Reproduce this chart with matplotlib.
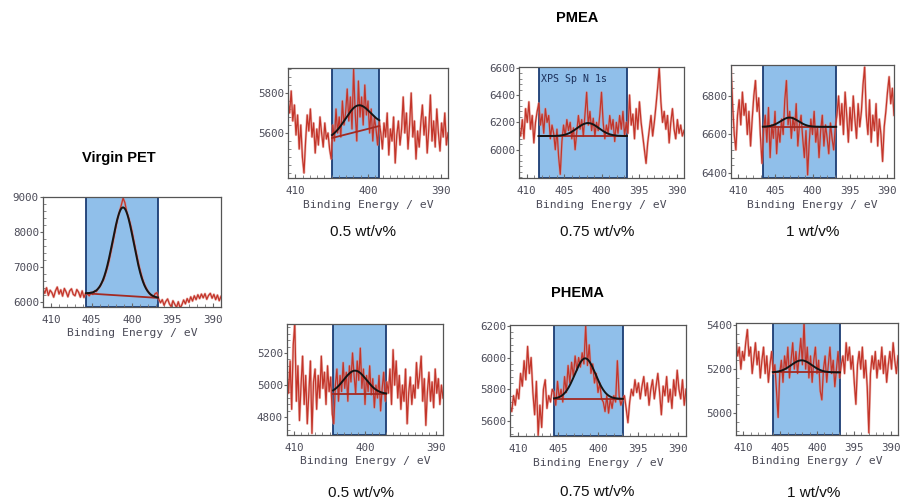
import numpy as np
import matplotlib
matplotlib.use("Agg")
import matplotlib.pyplot as plt
from matplotlib.ticker import FixedLocator, MultipleLocator, AutoMinorLocator

# ---------------------------------------------------------------- data
energy_span = (411.0, 389.0)          # binding energy range of every scan (eV)

virgin_pet_counts = [
    6380, 6260, 6420, 6200, 6350, 6280, 6150, 6330, 6440, 6240, 6360, 6180, 6400,
    6300, 6160, 6330, 6390, 6230, 6190, 6370, 6290, 6150, 6330, 6140, 6260,
    6240, 6190, 6290, 6230, 6330, 6310, 6400, 6450, 6560, 6640, 6800, 6960, 7160,
    7400, 7640, 7900, 8160, 8400, 8600, 8780, 8980, 8850, 8600, 8440, 8260, 8040,
    7780, 7520, 7280, 7040, 6840, 6660, 6520, 6410, 6320, 6240, 6190, 6150, 6250,
    6280, 6100,
    5990, 6080, 5920, 6030, 6100, 5960, 5880, 6050, 5950, 5860, 6020, 5850, 5930,
    6070, 5960, 6110, 6000, 6160, 6040, 6190, 6080, 6220, 6110, 6240, 6130, 6250,
    6090, 6200, 6260, 6120, 6230, 6080, 6210, 6050, 6170,
]

pmea_05_counts = [
    5760, 5700, 5810, 5660, 5740, 5590, 5690, 5520, 5640, 5480, 5400, 5560, 5690,
    5610, 5720, 5580, 5650, 5500, 5620, 5540, 5680, 5600, 5530, 5650, 5570, 5600,
    5520, 5470, 5640, 5560, 5720, 5600, 5680, 5580, 5760, 5640, 5700, 5820, 5660,
    5780, 5620, 5920, 5700, 5560, 5860, 5680, 5780, 5640, 5840, 5690, 5760, 5600,
    5720, 5560, 5680, 5620, 5540, 5660, 5600,
    5520, 5650, 5580, 5700, 5490, 5620, 5560, 5680, 5450, 5590, 5660, 5540, 5620,
    5780, 5600, 5700, 5520, 5640, 5800, 5580, 5660, 5470, 5610, 5530, 5650, 5740,
    5590, 5680, 5500, 5620, 5790, 5560, 5660, 5530, 5720, 5600, 5510, 5650, 5580,
    5700, 5540, 5600,
]

pmea_075_counts = [
    6150, 6100, 6220, 6080, 6300, 6200, 6350, 6150, 6250, 6050, 6200, 6280,
    6340, 6180, 6260, 6120, 6300, 6200, 6250, 6080, 6180, 6120, 6000, 6150, 5950,
    5820, 6060, 6180, 6100, 6220, 6140, 6200, 6080, 6160, 6000, 6130, 6250, 6150,
    6220, 6100, 6260, 6420, 6180, 6280, 6140, 6230, 6100, 6200, 6140, 6260, 6420,
    6200, 6080, 6180, 6120, 6250, 6150, 6220, 6060, 6200, 6120, 6250, 6150, 6280,
    6100, 6200, 6120,
    6400, 6180, 6260, 6080, 6300, 6150, 6350, 6200, 6100, 6000, 5900, 6050, 6150,
    6250, 6100, 6200, 6320, 6450, 6600, 6350, 6200, 6280, 6150, 6250, 6050, 6200,
    6300, 6150, 6080, 6220, 6120, 6180, 6100, 6140,
]

pmea_1_counts = [
    6950, 6750, 6600, 6520, 6700, 6780, 6650, 6820, 6700, 6760, 6600, 6720, 6540,
    6680, 6800, 6880, 6720, 6790, 6600, 6450, 6620, 6700, 6560, 6740, 6480, 6650,
    6580, 6720, 6500, 6640, 6560, 6680, 6600, 6780, 6880, 6650, 6720, 6580, 6690,
    6620, 6760, 6540, 6650, 6700, 6580, 6480, 6620, 6390, 6560, 6680, 6600, 6720,
    6560, 6640, 6480, 6620, 6700, 6540, 6650, 6580, 6500, 6660, 6580, 6520, 6640,
    6700,
    6800, 6650, 6760, 6600, 6820, 6700, 6560, 6740, 6620, 6800, 6680, 6580, 6760,
    6640, 6720, 6860, 6950, 6700, 6600, 6780, 6560, 6700, 6620, 6760, 6540, 6680,
    6600, 6460, 6640, 6720, 6820, 6900, 6760, 6840, 6700,
]

phema_05_counts = [
    5080, 4950, 5150, 4850, 5250, 5380, 4900, 5120, 4780, 5000, 5180, 4880, 5060,
    4760, 4950, 5150, 4700, 5020, 5100, 4850, 5060, 4920, 5180, 4980, 5080, 4880,
    5120, 4960, 5050, 4820, 4760,
    5000, 5100, 4900, 5060, 4960, 5140, 4980, 5080, 4900, 5120, 5020, 5200, 5060,
    4950, 5150, 5030, 5230, 4980, 5100, 4880, 5060, 4960, 5120, 4940, 5040, 4860,
    5000, 4920, 5060, 4840, 4980, 5080, 4900, 5020,
    4950, 5100, 4880, 5220, 5000, 5150, 4920, 5060, 4850, 5000, 4900, 5100, 4760,
    4950, 5050, 4880, 5000, 4920, 5140, 4980, 5060, 5180, 4900, 5040, 4750, 4960,
    5080, 4900, 5020, 4860, 5100, 4950, 5040, 4880, 5000, 4920,
]

phema_075_counts = [
    5700, 5660, 5760, 5700, 5800, 5740, 5900, 5820, 5980, 5860, 6070, 5900, 6000,
    5780, 5640, 5850, 5510, 5700, 5560, 5800, 5860, 5680, 5760, 5720, 5800,
    5780, 5700, 5850, 5740, 5800, 5720, 5880, 5780, 5950, 5840, 5970, 5880, 6010,
    5920, 6000, 5940, 6030, 5960, 6200, 5950, 6080, 5900, 5960, 5840, 5900, 5780,
    5840, 5740, 5720, 5660, 5760, 5650, 5740, 5680, 5760, 5720, 5980, 5760, 5700,
    5740,
    5760, 5680, 5590, 5720, 5800, 5760, 5860, 5780, 5840, 5740, 5820, 5880, 5760,
    5840, 5700, 5800, 5860, 5740, 5820, 5900, 5780, 5640, 5820, 5760, 5880, 5720,
    5800, 5680, 5860, 5760, 5920, 5800, 5740, 5860, 5700, 5800,
]

phema_1_counts = [
    5330, 5260, 5300, 5200, 5280, 5240, 5320, 5380, 5260, 5300, 5180, 5250, 5320,
    5220, 5280, 5160, 5240, 5300, 5180, 5260, 5140, 5220, 5280, 5180,
    5220, 5100, 4980, 5180, 5240, 5140, 5260, 5200, 5300, 5160, 5240, 5320, 5200,
    5280, 5180, 5260, 5340, 5220, 5420, 5200, 5300, 5160, 5260, 5140, 5240, 5300,
    5180, 5240, 5100, 5060, 5200, 5260, 5140, 5220, 5300, 5180, 5240, 5120, 5200,
    5280, 5160, 5220,
    5260, 5180, 5320, 5240, 5300, 5200, 5260, 5140, 5040, 5220, 5280, 5200, 5300,
    5160, 5240, 5120, 4910, 5180, 5260, 5200, 5280, 5160, 5240, 5200, 5300, 5180,
    5260, 5140, 5220, 5280, 5200, 5320, 5240, 5180, 5260,
]

# N 1s fit: window limits (eV), peak centre (eV), width (eV), height, baseline ends
virgin_pet_fit = dict(window=(405.7, 396.8), centre=401.1, sigma=1.31, height=2520, base=(6260, 6130))
pmea_05_fit    = dict(window=(404.95, 398.45), centre=401.4, sigma=1.7, height=130, base=(5575, 5635))
pmea_075_fit   = dict(window=(408.4, 396.6), centre=401.8, sigma=1.45, height=95, base=(6100, 6100))
pmea_1_fit     = dict(window=(406.7, 396.8), centre=403.1, sigma=1.2, height=48, base=(6640, 6640))
phema_05_fit   = dict(window=(404.5, 397.0), centre=401.4, sigma=1.6, height=145, base=(4945, 4945))
phema_075_fit  = dict(window=(405.5, 396.9), centre=401.6, sigma=1.3, height=255, base=(5740, 5740))
phema_1_fit    = dict(window=(406.0, 396.9), centre=402.1, sigma=1.4, height=55, base=(5185, 5185))

group_titles = ["Virgin PET", "PMEA", "PHEMA"]
loading_labels = ["0.5 wt/v%", "0.75 wt/v%", "1 wt/v%"]

# ---------------------------------------------------------------- layout
W, H = 909, 503
fig = plt.figure(figsize=(W / 100, H / 100), dpi=100)
fig.patch.set_facecolor("white")

MONO = "DejaVu Sans Mono"
AXIS_TXT = "#4b4b58"

panels = [
    # box in pixels (left, top, right, bottom), y-limits, y ticks, x ticks
    dict(box=(43, 197, 221, 307), counts=virgin_pet_counts, fit=virgin_pet_fit,
         ylim=(5870, 9010), yticks=[6000, 7000, 8000, 9000], xticks=[410, 405, 400, 395, 390]),
    dict(box=(288, 68, 448, 178), counts=pmea_05_counts, fit=pmea_05_fit,
         ylim=(5375, 5925), yticks=[5600, 5800], xticks=[410, 400, 390]),
    dict(box=(519, 67, 684, 178), counts=pmea_075_counts, fit=pmea_075_fit,
         ylim=(5793, 6605), yticks=[6000, 6200, 6400, 6600], xticks=[410, 405, 400, 395, 390],
         note="XPS Sp N 1s"),
    dict(box=(731, 65, 894, 178), counts=pmea_1_counts, fit=pmea_1_fit,
         ylim=(6374, 6961), yticks=[6400, 6600, 6800], xticks=[410, 405, 400, 395, 390]),
    dict(box=(287, 324, 443, 435), counts=phema_05_counts, fit=phema_05_fit,
         ylim=(4690, 5380), yticks=[4800, 5000, 5200], xticks=[410, 400, 390]),
    dict(box=(510, 325, 686, 436), counts=phema_075_counts, fit=phema_075_fit,
         ylim=(5506, 6205), yticks=[5600, 5800, 6000, 6200], xticks=[410, 405, 400, 395, 390]),
    dict(box=(736, 323, 898, 435), counts=phema_1_counts, fit=phema_1_fit,
         ylim=(4900, 5410), yticks=[5000, 5200, 5400], xticks=[410, 405, 400, 395, 390]),
]


def draw_panel(p):
    l, t, r, b = p["box"]
    ax = fig.add_axes([l / W, 1 - b / H, (r - l) / W, (b - t) / H])
    counts = np.asarray(p["counts"], dtype=float)
    energy = np.linspace(energy_span[0], energy_span[1], len(counts))
    fit = p["fit"]
    wl, wr = fit["window"]

    # fitting window
    ax.axvspan(wl, wr, facecolor="#90bfea", edgecolor="#1b3d74", lw=1.3, zorder=0)

    # measured spectrum: soft halo under a darker trace
    ax.plot(energy, counts, color="#e0837a", lw=1.8, alpha=0.55, zorder=2)
    ax.plot(energy, counts, color="#c3352a", lw=0.9, zorder=2)

    # baseline and fitted component
    ef = np.linspace(wl, wr, 200)
    base = np.interp(ef, [wr, wl], [fit["base"][1], fit["base"][0]])
    peak = base + fit["height"] * np.exp(-(ef - fit["centre"]) ** 2 / (2 * fit["sigma"] ** 2))
    ax.plot(ef, base, color="#a32a22", lw=1.3, zorder=3)
    ax.plot(ef, peak, color="#151515", lw=1.4, zorder=4)

    ax.set_xlim(*energy_span)
    ax.set_ylim(*p["ylim"])
    ax.xaxis.set_major_locator(FixedLocator(p["xticks"]))
    ax.xaxis.set_minor_locator(MultipleLocator(1))
    ax.yaxis.set_major_locator(FixedLocator(p["yticks"]))
    ax.yaxis.set_minor_locator(AutoMinorLocator(5))
    ax.set_xticklabels([str(v) for v in p["xticks"]], fontfamily=MONO, fontsize=7.8, color=AXIS_TXT)
    ax.set_yticklabels([str(v) for v in p["yticks"]], fontfamily=MONO, fontsize=7.8, color=AXIS_TXT)
    ax.tick_params(axis="x", which="major", direction="in", length=3, pad=5.5, color="#666")
    ax.tick_params(axis="x", which="minor", direction="in", length=2, color="#777")
    ax.tick_params(axis="y", which="major", direction="out", length=2.5, pad=0.5, color="#666")
    ax.tick_params(axis="y", which="minor", direction="in", length=2, color="#777")
    for s in ax.spines.values():
        s.set_color("#555")
        s.set_linewidth(0.9)

    ax.set_xlabel("Binding Energy / eV", fontfamily=MONO, fontsize=8.2, color=AXIS_TXT)
    ax.xaxis.set_label_coords(0.5, -21.5 / (b - t))

    if "note" in p:
        ax.text(wl - 0.3, p["ylim"][1] - 0.06 * (p["ylim"][1] - p["ylim"][0]), p["note"],
                fontfamily=MONO, fontsize=7.2, color="#1b2f5a", ha="left", va="top", zorder=5)
    return ax


for p in panels:
    draw_panel(p)

# group headings
fig.text(119 / W, 1 - 158 / H, group_titles[0], ha="center", va="center",
         fontfamily="Liberation Sans", fontweight="bold", fontsize=10.5)
fig.text(577 / W, 1 - 18 / H, group_titles[1], ha="center", va="center",
         fontfamily="Liberation Sans", fontweight="bold", fontsize=10.5)
fig.text(577 / W, 1 - 293 / H, group_titles[2], ha="center", va="center",
         fontfamily="Liberation Sans", fontweight="bold", fontsize=10.5)

# loading captions under each spectrum
caption_pos = [(363, 232), (597, 232), (813, 232), (361, 493), (597, 492), (814, 493)]
for i, (cx, cy) in enumerate(caption_pos):
    fig.text(cx / W, 1 - cy / H, loading_labels[i % 3], ha="center", va="center",
             fontfamily="Liberation Sans", fontsize=11, color="#111")

fig.savefig("out.png", dpi=100, facecolor="white")
